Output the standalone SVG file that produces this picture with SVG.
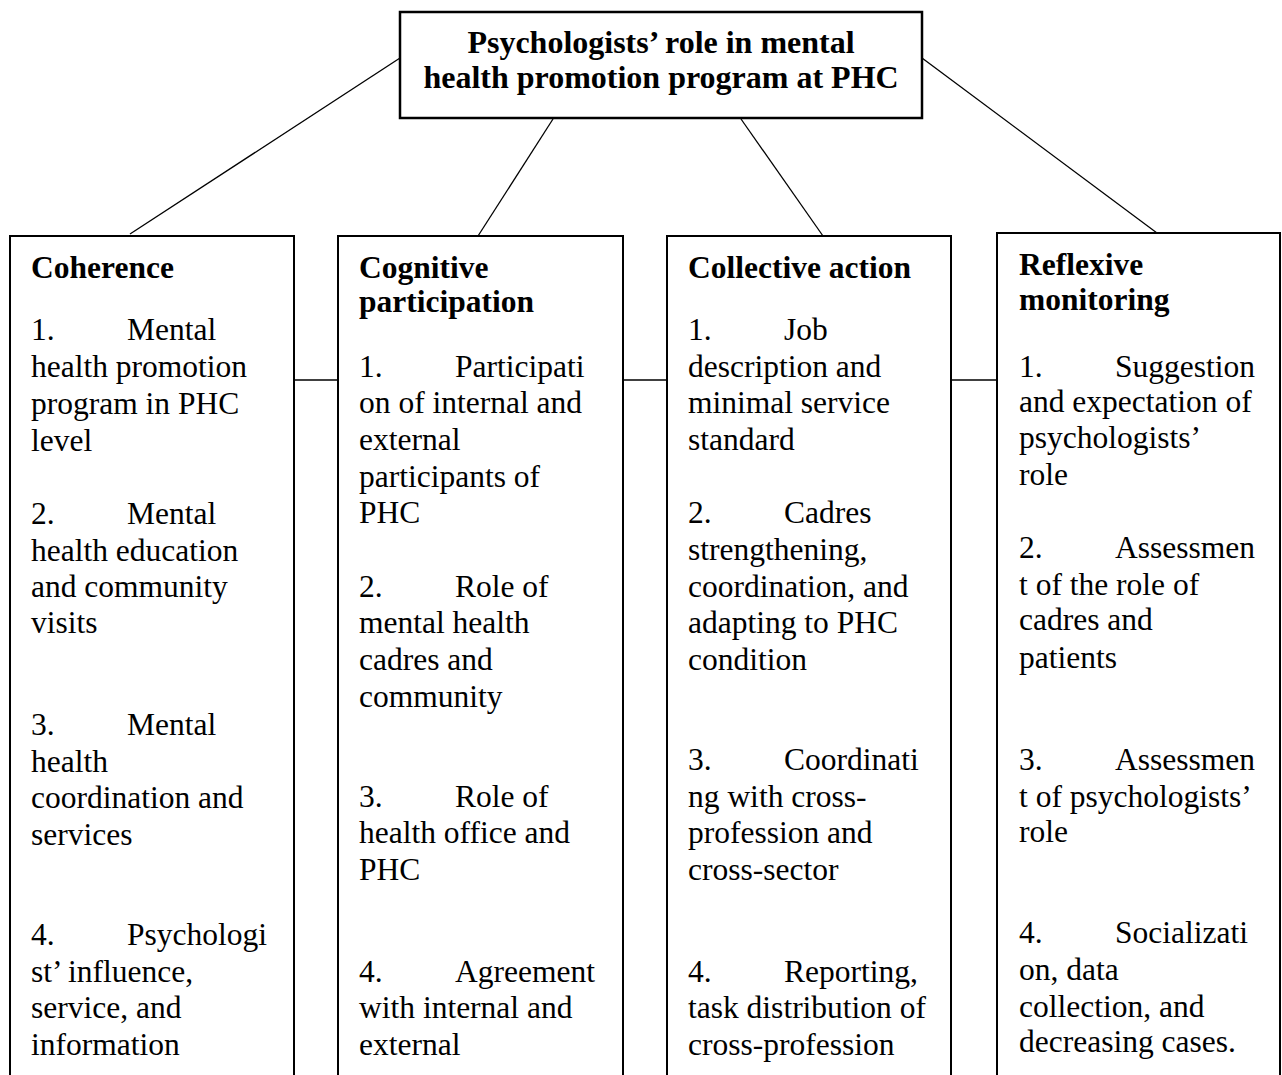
<svg xmlns="http://www.w3.org/2000/svg" width="1282" height="1075" viewBox="0 0 1282 1075">
<style>
.box{fill:#fff;stroke:#000;stroke-width:2}
.hdr{fill:#fff;stroke:#000;stroke-width:2.5}
.ln{stroke:#000;stroke-width:1.3;fill:none}
text{font-family:"Liberation Serif","Times New Roman",serif;fill:#000}
.t{font-size:32px;font-weight:bold;text-anchor:middle}
.h{font-size:31.5px;font-weight:bold}
.b{font-size:31.5px}
</style>
<rect width="1282" height="1075" fill="#fff"/>
<g id="connectors">
<line class="ln" x1="400" y1="58" x2="130" y2="234"/>
<line class="ln" x1="553" y1="119" x2="478" y2="236"/>
<line class="ln" x1="741" y1="119" x2="823" y2="236"/>
<line class="ln" x1="922" y1="58" x2="1157" y2="233"/>
<line class="ln" x1="294" y1="380" x2="338" y2="380"/>
<line class="ln" x1="623" y1="380" x2="667" y2="380"/>
<line class="ln" x1="951" y1="380" x2="997" y2="380"/>
</g>
<g id="root">
<rect class="hdr" x="400" y="12" width="522" height="106"/>
<text class="t" x="661" y="53">Psychologists’ role in mental</text>
<text class="t" x="661" y="88">health promotion program at PHC</text>
</g>
<g id="coherence">
<rect class="box" x="10" y="236" width="284" height="860"/>
<text class="h" x="31" y="278">Coherence</text>
<text class="b" x="31" y="340">1.</text><text class="b" x="127" y="340">Mental</text>
<text class="b" x="31" y="377">health promotion</text>
<text class="b" x="31" y="414">program in PHC</text>
<text class="b" x="31" y="451">level</text>
<text class="b" x="31" y="524">2.</text><text class="b" x="127" y="524">Mental</text>
<text class="b" x="31" y="561">health education</text>
<text class="b" x="31" y="597">and community</text>
<text class="b" x="31" y="633">visits</text>
<text class="b" x="31" y="735">3.</text><text class="b" x="127" y="735">Mental</text>
<text class="b" x="31" y="772">health</text>
<text class="b" x="31" y="808">coordination and</text>
<text class="b" x="31" y="845">services</text>
<text class="b" x="31" y="945">4.</text><text class="b" x="127" y="945">Psychologi</text>
<text class="b" x="31" y="982">st’ influence,</text>
<text class="b" x="31" y="1018">service, and</text>
<text class="b" x="31" y="1055">information</text>
</g>
<g id="cognitive">
<rect class="box" x="338" y="236" width="285" height="860"/>
<text class="h" x="359" y="278">Cognitive</text>
<text class="h" x="359" y="312">participation</text>
<text class="b" x="359" y="377">1.</text><text class="b" x="455" y="377">Participati</text>
<text class="b" x="359" y="413">on of internal and</text>
<text class="b" x="359" y="450">external</text>
<text class="b" x="359" y="487">participants of</text>
<text class="b" x="359" y="523">PHC</text>
<text class="b" x="359" y="597">2.</text><text class="b" x="455" y="597">Role of</text>
<text class="b" x="359" y="633">mental health</text>
<text class="b" x="359" y="670">cadres and</text>
<text class="b" x="359" y="707">community</text>
<text class="b" x="359" y="807">3.</text><text class="b" x="455" y="807">Role of</text>
<text class="b" x="359" y="843">health office and</text>
<text class="b" x="359" y="880">PHC</text>
<text class="b" x="359" y="982">4.</text><text class="b" x="455" y="982">Agreement</text>
<text class="b" x="359" y="1018">with internal and</text>
<text class="b" x="359" y="1055">external</text>
</g>
<g id="collective">
<rect class="box" x="667" y="236" width="284" height="860"/>
<text class="h" x="688" y="278">Collective action</text>
<text class="b" x="688" y="340">1.</text><text class="b" x="784" y="340">Job</text>
<text class="b" x="688" y="377">description and</text>
<text class="b" x="688" y="413">minimal service</text>
<text class="b" x="688" y="450">standard</text>
<text class="b" x="688" y="523">2.</text><text class="b" x="784" y="523">Cadres</text>
<text class="b" x="688" y="560">strengthening,</text>
<text class="b" x="688" y="597">coordination, and</text>
<text class="b" x="688" y="633">adapting to PHC</text>
<text class="b" x="688" y="670">condition</text>
<text class="b" x="688" y="770">3.</text><text class="b" x="784" y="770">Coordinati</text>
<text class="b" x="688" y="807">ng with cross-</text>
<text class="b" x="688" y="843">profession and</text>
<text class="b" x="688" y="880">cross-sector</text>
<text class="b" x="688" y="982">4.</text><text class="b" x="784" y="982">Reporting,</text>
<text class="b" x="688" y="1018">task distribution of</text>
<text class="b" x="688" y="1055">cross-profession</text>
</g>
<g id="reflexive">
<rect class="box" x="997" y="233" width="283" height="860"/>
<text class="h" x="1019" y="275">Reflexive</text>
<text class="h" x="1019" y="310">monitoring</text>
<text class="b" x="1019" y="377">1.</text><text class="b" x="1115" y="377">Suggestion</text>
<text class="b" x="1019" y="412">and expectation of</text>
<text class="b" x="1019" y="448">psychologists’</text>
<text class="b" x="1019" y="485">role</text>
<text class="b" x="1019" y="558">2.</text><text class="b" x="1115" y="558">Assessmen</text>
<text class="b" x="1019" y="595">t of the role of</text>
<text class="b" x="1019" y="630">cadres and</text>
<text class="b" x="1019" y="668">patients</text>
<text class="b" x="1019" y="770">3.</text><text class="b" x="1115" y="770">Assessmen</text>
<text class="b" x="1019" y="807">t of psychologists’</text>
<text class="b" x="1019" y="842">role</text>
<text class="b" x="1019" y="943">4.</text><text class="b" x="1115" y="943">Socializati</text>
<text class="b" x="1019" y="980">on, data</text>
<text class="b" x="1019" y="1017">collection, and</text>
<text class="b" x="1019" y="1052">decreasing cases.</text>
</g>
</svg>
